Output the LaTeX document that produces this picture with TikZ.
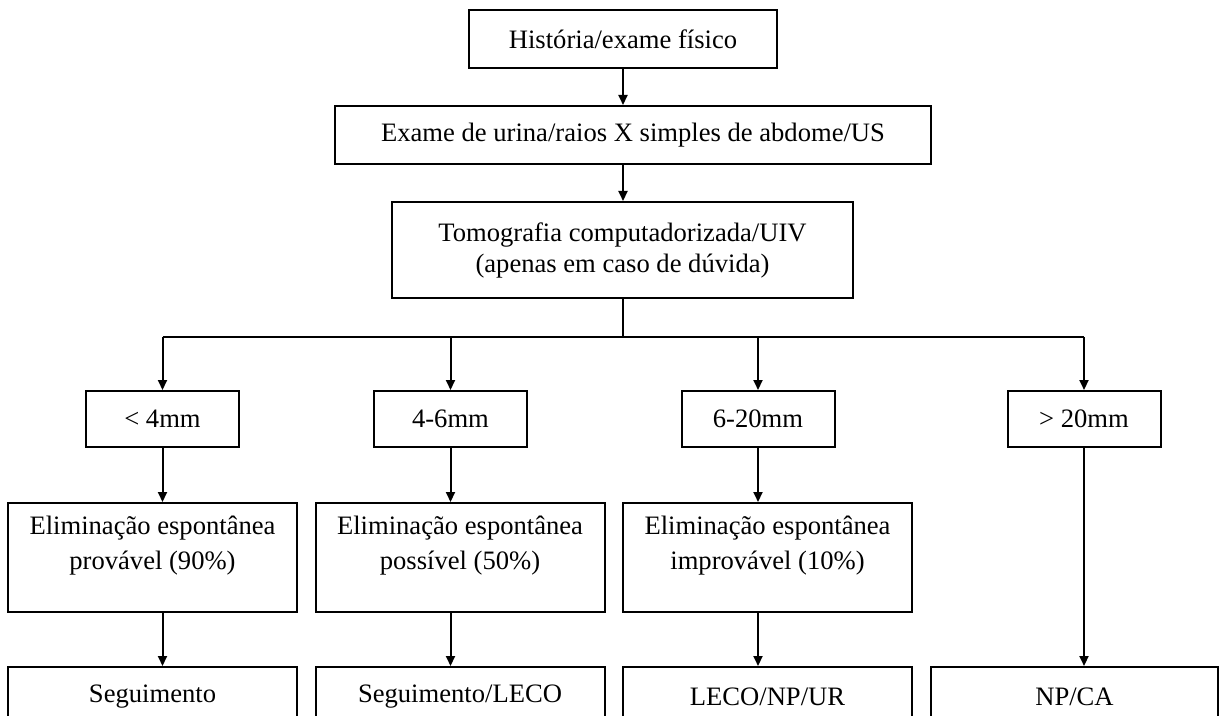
\documentclass[tikz,border=0pt]{standalone}
\usepackage{fontspec}
\setmainfont{Liberation Serif}
\usetikzlibrary{arrows.meta}
\begin{document}
\begin{tikzpicture}[x=0.5pt,y=-0.5pt,
	box/.style={draw,line width=1pt,inner sep=0pt,align=center,font=\fontsize{13.3}{15.5}\selectfont},
	sizebox/.style={box,minimum width=76.5pt,minimum height=28pt},
	elimbox/.style={box,minimum width=144.5pt,minimum height=54.5pt,anchor=north,font=\fontsize{13.3}{17.5}\selectfont},
	endbox/.style={box,minimum width=144.5pt,minimum height=30pt,anchor=north},
	arr/.style={-{Triangle[length=5pt,width=4.5pt]},line width=1pt}]
	\useasboundingbox (0,0) rectangle (1219,716);
	\clip (0,0) rectangle (1219,716);
	% top of the chart
	\node[box,minimum width=154pt,minimum height=29pt] (hist) at (623,39) {História/exame físico};
	\node[box,minimum width=298pt,minimum height=29pt] (exame) at (633,135) {Exame de urina/raios X simples de abdome/US};
	\node[box,minimum width=230.5pt,minimum height=48pt] (tomo) at (622.5,250) {Tomografia computadorizada/UIV\\(apenas em caso de dúvida)};
	\draw[arr] (hist.south) -- (hist.south |- exame.north);
	\draw[arr] (hist.south |- exame.south) -- (hist.south |- tomo.north);
	% stone size
	\node[sizebox] (s4) at (162.5,419) {< 4mm};
	\node[sizebox] (s46) at (450.5,419) {4-6mm};
	\node[sizebox] (s620) at (758,419) {6-20mm};
	\node[sizebox] (s20) at (1084,419) {> 20mm};
	\draw[line width=1pt] (tomo.south) -- ++(0,38) coordinate (split);
	\draw[line width=1pt] (s4.north |- split) -- (s20.north |- split);
	\foreach \s in {s4,s46,s620,s20}
		\draw[arr] (\s.north |- split) -- (\s.north);
	% elimination
	\node[elimbox] (elim1) at (152.5,502) {Eliminação espontânea\\provável (90\%)\\[-2.5pt]\mbox{}};
	\node[elimbox] (elim2) at (460,502) {Eliminação espontânea\\possível (50\%)\\[-2.5pt]\mbox{}};
	\node[elimbox] (elim3) at (767.5,502) {Eliminação espontânea\\improvável (10\%)\\[-2.5pt]\mbox{}};
	% treatment
	\node[endbox] (seg) at (152.5,666) {Seguimento};
	\node[endbox] (segleco) at (460,666) {Seguimento/LECO};
	\node[endbox] (leco) at (767.5,666) {LECO/NP/UR};
	\node[endbox,minimum width=143.5pt] (npca) at (1074.5,666) {NP/CA};
	\foreach \s/\e/\f in {s4/elim1/seg,s46/elim2/segleco,s620/elim3/leco}{
		\draw[arr] (\s.south) -- (\s.south |- \e.north);
		\draw[arr] (\s.south |- \e.south) -- (\s.south |- \f.north);
	}
	\draw[arr] (s20.south) -- (s20.south |- npca.north);
\end{tikzpicture}
\end{document}
